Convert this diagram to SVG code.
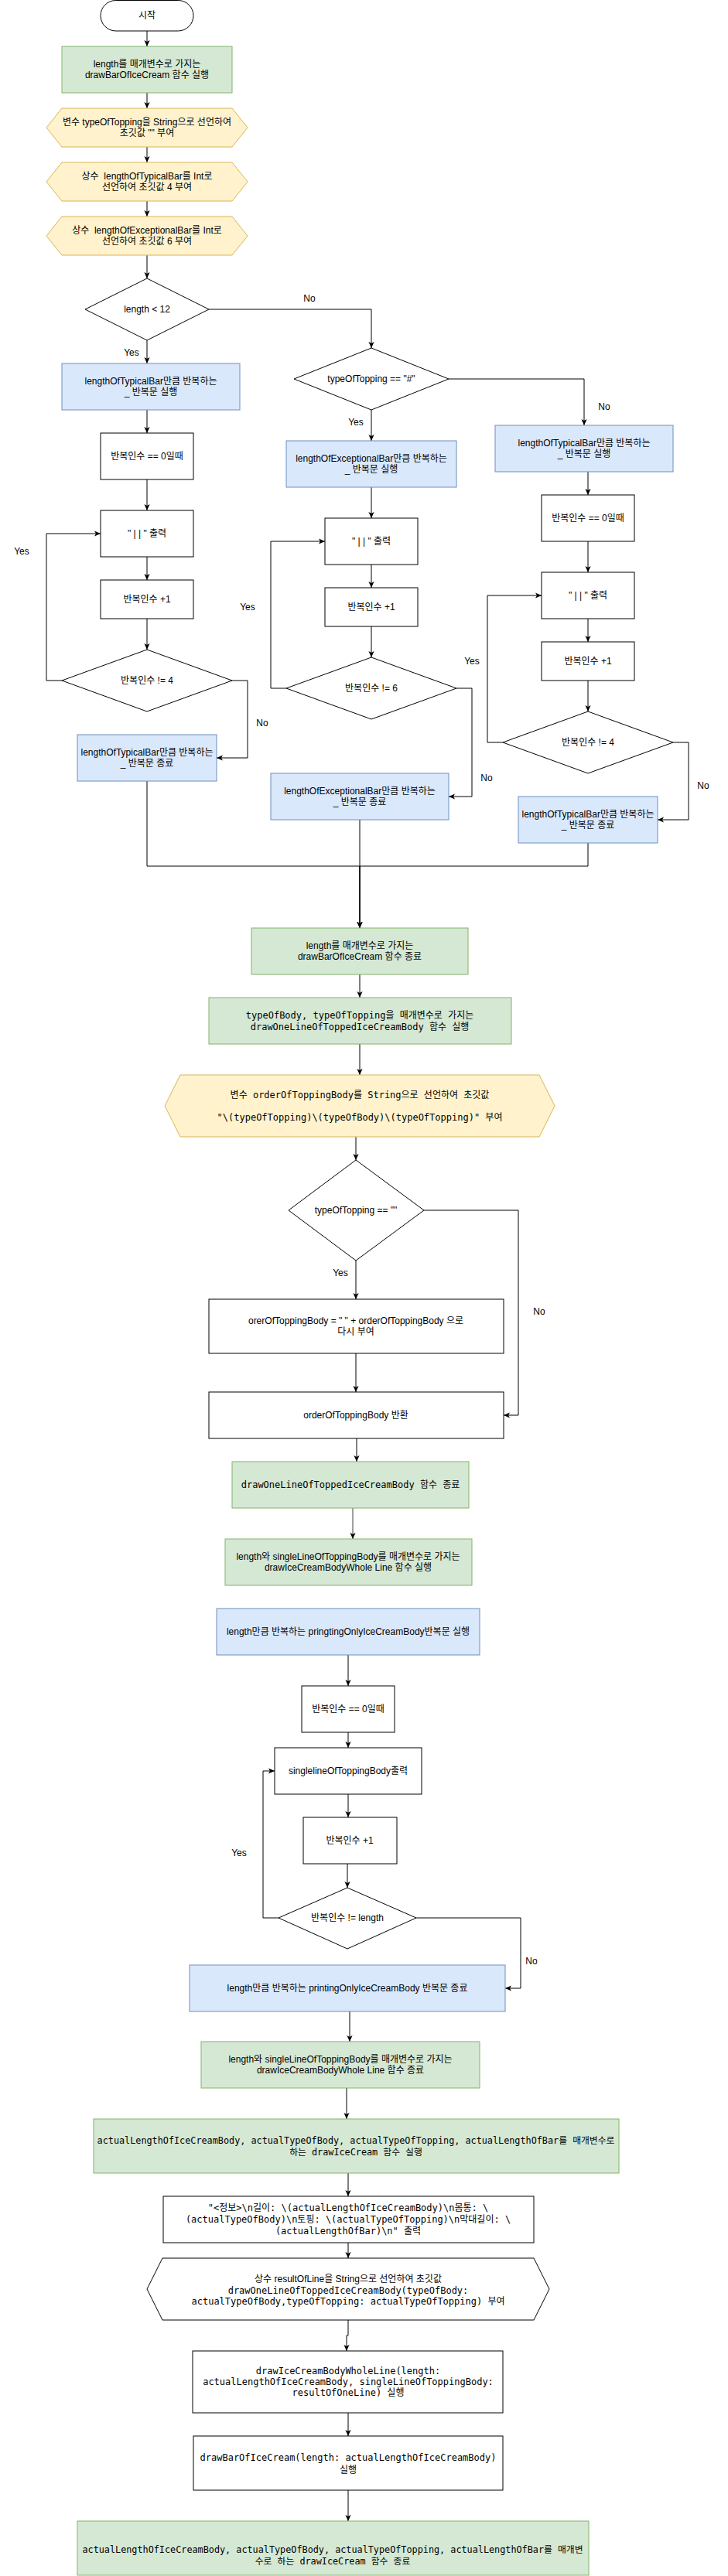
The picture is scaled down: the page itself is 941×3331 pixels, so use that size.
<svg xmlns="http://www.w3.org/2000/svg" width="941" height="3331" viewBox="0 0 941 3331">
<style>
.s{font-family:"Liberation Sans","Noto Sans CJK KR",sans-serif;font-size:12px;fill:#000;text-anchor:middle;white-space:pre}
.m{font-family:"DejaVu Sans Mono","Noto Sans CJK KR",monospace;font-size:12px;fill:#000;text-anchor:middle;white-space:pre}
.m2{font-size:11.8px}
.w{fill:#fff;stroke:#000;stroke-width:1}
.g{fill:#d5e8d4;stroke:#82b366;stroke-width:1}
.b{fill:#dae8fc;stroke:#6c8ebf;stroke-width:1}
.y{fill:#fff2cc;stroke:#d6b656;stroke-width:1}
.e{fill:none;stroke:#000;stroke-width:1;marker-end:url(#arr)}
.eg{fill:none;stroke:#808080;stroke-width:1.5;marker-end:url(#arr)}
.l{fill:none;stroke:#000;stroke-width:1}
</style>
<defs>
<marker id="arr" viewBox="0 0 10 10" refX="10" refY="5" markerWidth="8" markerHeight="8" markerUnits="userSpaceOnUse" orient="auto"><path d="M0,0.5 L10,5 L0,9.5 L2.5,5 z" fill="#000"/></marker>
</defs>
<rect width="941" height="3331" fill="#fff"/>

<g id="connectors">
<path class="e" d="M190,40 V60"/>
<path class="e" d="M190,120 V140"/>
<path class="e" d="M190,190 V210"/>
<path class="e" d="M190,260 V280"/>
<path class="e" d="M190,330 V360"/>
<path class="e" d="M190,440 V470"/>
<path class="e" d="M270,400 H480 V450"/>
<path class="e" d="M190,530 V560"/>
<path class="e" d="M190,620 V660"/>
<path class="e" d="M190,720 V750"/>
<path class="e" d="M190,800 V840"/>
<path class="e" d="M80,880 H60 V690 H130"/>
<path class="e" d="M300,880 H320 V980 H280"/>
<path class="e" d="M190,1010 V1120 H465 V1200"/>
<path class="e" d="M480,530 V570"/>
<path class="e" d="M580,490 H755 V550"/>
<path class="e" d="M480,630 V670"/>
<path class="e" d="M480,730 V760"/>
<path class="e" d="M480,810 V850"/>
<path class="e" d="M370,890 H350 V700 H420"/>
<path class="e" d="M590,890 H610 V1030 H580"/>
<path class="e" d="M465,1060 V1200"/>
<path class="e" d="M760,610 V640"/>
<path class="e" d="M760,700 V740"/>
<path class="e" d="M760,800 V830"/>
<path class="e" d="M760,880 V920"/>
<path class="e" d="M650,960 H630 V770 H700"/>
<path class="e" d="M870,960 H890 V1060 H850"/>
<path class="e" d="M760,1090 V1120 H465 V1200"/>
<path class="e" d="M465,1260 V1290"/>
<path class="e" d="M465,1350 V1390"/>
<path class="e" d="M460,1470 V1500"/>
<path class="e" d="M460,1630 V1680"/>
<path class="e" d="M548,1565 H670 V1830 H651"/>
<path class="e" d="M460,1750 V1800"/>
<path class="e" d="M461,1860 V1890"/>
<path class="eg" d="M456,1950 V1990"/>
<path class="e" d="M450,2140 V2180"/>
<path class="e" d="M450,2240 V2260"/>
<path class="e" d="M450,2320 V2350"/>
<path class="e" d="M449,2410 V2441"/>
<path class="e" d="M360,2480 H340 V2290 H355"/>
<path class="e" d="M538,2480 H673 V2571 H653"/>
<path class="e" d="M452,2601 V2640"/>
<path class="e" d="M448,2700 V2740"/>
<path class="e" d="M450,2810 V2840"/>
<path class="e" d="M450,2900 V2920"/>
<path class="e" d="M450,3000 V3020 H448 V3040"/>
<path class="e" d="M450,3120 V3150"/>
<path class="e" d="M450,3220 V3260"/>
<text class="s" x="400" y="390">No</text>
<text class="s" x="170" y="460">Yes</text>
<text class="s" x="460" y="550">Yes</text>
<text class="s" x="781" y="530">No</text>
<text class="s" x="28" y="717">Yes</text>
<text class="s" x="339" y="939">No</text>
<text class="s" x="320" y="789">Yes</text>
<text class="s" x="629" y="1010">No</text>
<text class="s" x="610" y="859">Yes</text>
<text class="s" x="909" y="1020">No</text>
<text class="s" x="440" y="1650">Yes</text>
<text class="s" x="697" y="1700">No</text>
<text class="s" x="309" y="2400">Yes</text>
<text class="s" x="687" y="2540">No</text>
</g>

<g id="start"><rect class="w" x="130" y="0.5" width="120" height="39.5" rx="19.75"/><text class="s" x="190" y="24">시작</text></g>
<g id="drawBar-start"><rect class="g" x="80" y="60" width="220" height="60"/><text class="s" x="190" y="87">length를 매개변수로 가지는</text><text class="s" x="190" y="101">drawBarOfIceCream 함수 실행</text></g>
<g id="decl-topping"><polygon class="y" points="60,165 80,140 300,140 320,165 300,190 80,190"/><text class="s" x="190" y="162">변수 typeOfTopping을 String으로 선언하여</text><text class="s" x="190" y="176">초깃값 "" 부여</text></g>
<g id="decl-typical"><polygon class="y" points="60,235 80,210 300,210 320,235 300,260 80,260"/><text class="s" x="190" y="232">상수  lengthOfTypicalBar를 Int로</text><text class="s" x="190" y="246">선언하여 초깃값 4 부여</text></g>
<g id="decl-exceptional"><polygon class="y" points="60,305 80,280 300,280 320,305 300,330 80,330"/><text class="s" x="190" y="302">상수  lengthOfExceptionalBar를 Int로</text><text class="s" x="190" y="316">선언하여 초깃값 6 부여</text></g>
<g id="cond-length"><polygon class="w" points="110,400 190,360 270,400 190,440"/><text class="s" x="190" y="404">length &lt; 12</text></g>

<g id="L-loop-start"><rect class="b" x="80" y="470" width="230" height="60"/><text class="s" x="195" y="497">lengthOfTypicalBar만큼 반복하는</text><text class="s" x="195" y="511">_ 반복문 실행</text></g>
<g id="L-init"><rect class="w" x="130" y="560" width="120" height="60"/><text class="s" x="190" y="594">반복인수 == 0일때</text></g>
<g id="L-print"><rect class="w" x="130" y="660" width="120" height="60"/><text class="s" x="190" y="694">" | | " 출력</text></g>
<g id="L-inc"><rect class="w" x="130" y="750" width="120" height="50"/><text class="s" x="190" y="779">반복인수 +1</text></g>
<g id="L-cond"><polygon class="w" points="80,880 190,840 300,880 190,920"/><text class="s" x="190" y="884">반복인수 != 4</text></g>
<g id="L-loop-end"><rect class="b" x="100" y="950" width="180" height="60"/><text class="s" x="190" y="977">lengthOfTypicalBar만큼 반복하는</text><text class="s" x="190" y="991">_ 반복문 종료</text></g>

<g id="cond-topping"><polygon class="w" points="380,490 480,450 580,490 480,530"/><text class="s" x="480" y="494">typeOfTopping == "#"</text></g>
<g id="M-loop-start"><rect class="b" x="370" y="570" width="220" height="60"/><text class="s" x="480" y="597">lengthOfExceptionalBar만큼 반복하는</text><text class="s" x="480" y="611">_ 반복문 실행</text></g>
<g id="M-print"><rect class="w" x="420" y="670" width="120" height="60"/><text class="s" x="480" y="704">" | | " 출력</text></g>
<g id="M-inc"><rect class="w" x="420" y="760" width="120" height="50"/><text class="s" x="480" y="789">반복인수 +1</text></g>
<g id="M-cond"><polygon class="w" points="370,890 480,850 590,890 480,930"/><text class="s" x="480" y="894">반복인수 != 6</text></g>
<g id="M-loop-end"><rect class="b" x="350" y="1000" width="230" height="60"/><text class="s" x="465" y="1027">lengthOfExceptionalBar만큼 반복하는</text><text class="s" x="465" y="1041">_ 반복문 종료</text></g>

<g id="R-loop-start"><rect class="b" x="640" y="550" width="230" height="60"/><text class="s" x="755" y="577">lengthOfTypicalBar만큼 반복하는</text><text class="s" x="755" y="591">_ 반복문 실행</text></g>
<g id="R-init"><rect class="w" x="700" y="640" width="120" height="60"/><text class="s" x="760" y="674">반복인수 == 0일때</text></g>
<g id="R-print"><rect class="w" x="700" y="740" width="120" height="60"/><text class="s" x="760" y="774">" | | " 출력</text></g>
<g id="R-inc"><rect class="w" x="700" y="830" width="120" height="50"/><text class="s" x="760" y="859">반복인수 +1</text></g>
<g id="R-cond"><polygon class="w" points="650,960 760,920 870,960 760,1000"/><text class="s" x="760" y="964">반복인수 != 4</text></g>
<g id="R-loop-end"><rect class="b" x="670" y="1030" width="180" height="60"/><text class="s" x="760" y="1057">lengthOfTypicalBar만큼 반복하는</text><text class="s" x="760" y="1071">_ 반복문 종료</text></g>

<g id="drawBar-end"><rect class="g" x="325" y="1200" width="280" height="60"/><text class="s" x="465" y="1227">length를 매개변수로 가지는</text><text class="s" x="465" y="1241">drawBarOfIceCream 함수 종료</text></g>
<g id="drawOneLine-start"><rect class="g" x="270" y="1290" width="391" height="60"/><text class="m" x="465" y="1317">typeOfBody, typeOfTopping을 매개변수로 가지는</text><text class="m" x="465" y="1332">drawOneLineOfToppedIceCreamBody 함수 실행</text></g>
<g id="decl-order"><polygon class="y" points="213,1430 233,1390 697,1390 717,1430 697,1470 233,1470"/><text class="m" x="465" y="1420">변수 orderOfToppingBody를 String으로 선언하여 초깃값</text><text class="m" x="465" y="1449">"\(typeOfTopping)\(typeOfBody)\(typeOfTopping)" 부여</text></g>
<g id="cond-empty"><polygon class="w" points="373,1565 460,1500 548,1565 460,1630"/><text class="s" x="460" y="1569">typeOfTopping == ""</text></g>
<g id="reassign"><rect class="w" x="270" y="1680" width="381" height="70"/><text class="s" x="460" y="1712">orerOfToppingBody = " " + orderOfToppingBody 으로</text><text class="s" x="460" y="1726">다시 부여</text></g>
<g id="return-order"><rect class="w" x="270" y="1800" width="381" height="60"/><text class="s" x="460" y="1834">orderOfToppingBody 반환</text></g>
<g id="drawOneLine-end"><rect class="g" x="300" y="1890" width="306" height="60"/><text class="m" x="453" y="1924">drawOneLineOfToppedIceCreamBody 함수 종료</text></g>
<g id="wholeLine-start"><rect class="g" x="291" y="1990" width="319" height="60"/><text class="s" x="450" y="2017">length와 singleLineOfToppingBody를 매개변수로 가지는</text><text class="s" x="450" y="2031">drawIceCreamBodyWhole Line 함수 실행</text></g>
<g id="P-loop-start"><rect class="b" x="280" y="2080" width="340" height="60"/><text class="s" x="450" y="2114">length만큼 반복하는 pringtingOnlyIceCreamBody반복문 실행</text></g>
<g id="P-init"><rect class="w" x="390" y="2180" width="120" height="60"/><text class="s" x="450" y="2214">반복인수 == 0일때</text></g>
<g id="P-print"><rect class="w" x="355" y="2260" width="190" height="60"/><text class="s" x="450" y="2294">singlelineOfToppingBody출력</text></g>
<g id="P-inc"><rect class="w" x="392" y="2350" width="121" height="60"/><text class="s" x="452" y="2384">반복인수 +1</text></g>
<g id="P-cond"><polygon class="w" points="360,2480 449,2441 538,2480 449,2520"/><text class="s" x="449" y="2484">반복인수 != length</text></g>
<g id="P-loop-end"><rect class="b" x="245" y="2541" width="408" height="60"/><text class="s" x="449" y="2575">length만큼 반복하는 printingOnlyIceCreamBody 반복문 종료</text></g>
<g id="wholeLine-end"><rect class="g" x="260" y="2640" width="360" height="60"/><text class="s" x="440" y="2667">length와 singleLineOfToppingBody를 매개변수로 가지는</text><text class="s" x="440" y="2681">drawIceCreamBodyWhole Line 함수 종료</text></g>
<g id="drawIceCream-start"><rect class="g" x="121" y="2740" width="679" height="70"/><text class="m m2" x="460" y="2772">actualLengthOfIceCreamBody, actualTypeOfBody, actualTypeOfTopping, actualLengthOfBar를 매개변수로</text><text class="m m2" x="460" y="2787">하는 drawIceCream 함수 실행</text></g>
<g id="print-info"><rect class="w" x="211" y="2840" width="479" height="60"/><text class="m" x="450" y="2859">"&lt;정보&gt;\n길이: \(actualLengthOfIceCreamBody)\n몸통: \</text><text class="m" x="450" y="2874">(actualTypeOfBody)\n토핑: \(actualTypeOfTopping)\n막대길이: \</text><text class="m" x="450" y="2889">(actualLengthOfBar)\n" 출력</text></g>
<g id="decl-result"><polygon class="w" points="190,2960 210,2920 690,2920 710,2960 690,3000 210,3000"/><text class="s" x="450" y="2951">상수 resultOfLine을 String으로 선언하여 초깃값</text><text class="m" x="450" y="2966">drawOneLineOfToppedIceCreamBody(typeOfBody:</text><text class="m" x="450" y="2980">actualTypeOfBody,typeOfTopping: actualTypeOfTopping) 부여</text></g>
<g id="call-wholeLine"><rect class="w" x="249" y="3040" width="401" height="80"/><text class="m" x="450" y="3070">drawIceCreamBodyWholeLine(length:</text><text class="m" x="450" y="3084">actualLengthOfIceCreamBody, singleLineOfToppingBody:</text><text class="m" x="450" y="3098">resultOfOneLine) 실행</text></g>
<g id="call-drawBar"><rect class="w" x="250" y="3150" width="400" height="70"/><text class="m" x="450" y="3182">drawBarOfIceCream(length: actualLengthOfIceCreamBody)</text><text class="m" x="450" y="3198">실행</text></g>
<g id="drawIceCream-end"><rect class="g" x="100" y="3260" width="661" height="70"/><text class="m m2" x="430" y="3301">actualLengthOfIceCreamBody, actualTypeOfBody, actualTypeOfTopping, actualLengthOfBar를 매개변</text><text class="m m2" x="430" y="3316">수로 하는 drawIceCream 함수 종료</text></g>
</svg>
